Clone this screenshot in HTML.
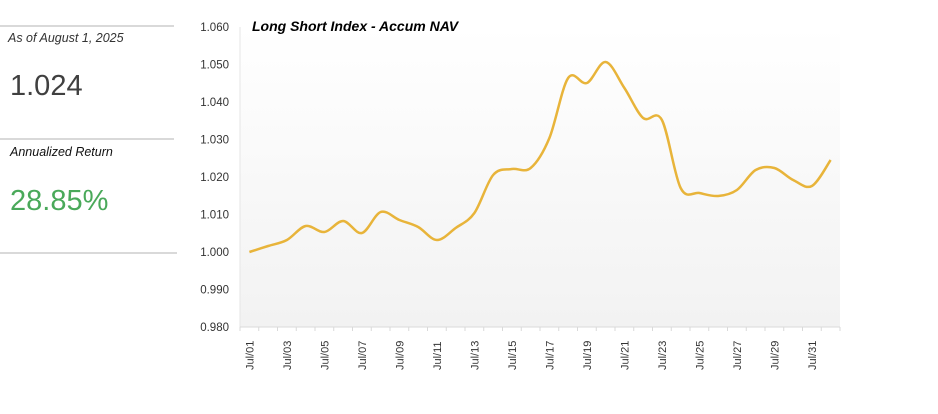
<!DOCTYPE html>
<html><head><meta charset="utf-8"><style>
body{margin:0;width:938px;height:414px;background:#fff;overflow:hidden;font-family:"Liberation Sans",sans-serif;position:relative}
.hr{position:absolute;left:0;height:2px;background:#d9d9d9}
.t{position:absolute;white-space:nowrap}
</style></head><body>
<div class="hr" style="top:25px;width:174px"></div>
<div class="t" style="left:8px;top:31px;font-size:12.5px;font-style:italic;color:#333">As of August 1, 2025</div>
<div class="t" style="left:10px;top:70px;font-size:29px;color:#404040">1.024</div>
<div class="hr" style="top:138px;width:174px"></div>
<div class="t" style="left:10px;top:145px;font-size:12.5px;font-style:italic;color:#111">Annualized Return</div>
<div class="t" style="left:10px;top:185px;font-size:29px;color:#4aa95a">28.85%</div>
<div class="hr" style="top:252px;width:177px"></div>
<svg width="938" height="414" style="position:absolute;left:0;top:0">
<defs><linearGradient id="g" x1="0" y1="0" x2="0" y2="1"><stop offset="0" stop-color="#fff"/><stop offset="1" stop-color="#f2f2f2"/></linearGradient></defs>
<rect x="240" y="27" width="600" height="300" fill="url(#g)"/>
<line x1="240" y1="27" x2="240" y2="327" stroke="#e6e6e6"/>
<line x1="240" y1="327" x2="840" y2="327" stroke="#d9d9d9"/>
<text x="252" y="31" font-size="14" font-weight="bold" font-style="italic" fill="#000">Long Short Index - Accum NAV</text>
<g id="yl" font-size="11.5" fill="#333" text-anchor="end"></g>
<g id="xl" font-size="11" fill="#333"></g>
<path id="p" fill="none" stroke="#e8b43a" stroke-width="2.5"/>
</svg>
<script>
var yl=document.getElementById('yl'),xl=document.getElementById('xl'),ns='http://www.w3.org/2000/svg';
for(var i=0;i<=8;i++){var t=document.createElementNS(ns,'text');t.setAttribute('x',229);t.setAttribute('y',27+i*37.5+4);t.textContent=(1.06-i*0.01).toFixed(3);yl.appendChild(t);}
for(var i=0;i<=32;i++){var l=document.createElementNS(ns,'line');var x=240+i*18.75;l.setAttribute('x1',x);l.setAttribute('x2',x);l.setAttribute('y1',327);l.setAttribute('y2',331);l.setAttribute('stroke','#d9d9d9');xl.appendChild(l);}
for(var d=1;d<=31;d+=2){var x=249.4+(d-1)*18.75+4;var t=document.createElementNS(ns,'text');t.setAttribute('transform','translate('+x+',370) rotate(-90)');t.textContent='Jul/'+(d<10?'0'+d:d);xl.appendChild(t);}
var ys=[252,246,240,226,232,221,233,212,220,227,240,228,213,175,169,168,138,78,83,62,88,118,120,188,193,196,190,170,168,180,186,160];
var pts=ys.map(function(y,i){return [249.4+i*18.75,y]});
var d='M'+pts[0][0]+','+pts[0][1];
for(var i=0;i<pts.length-1;i++){var p0=pts[Math.max(0,i-1)],p1=pts[i],p2=pts[i+1],p3=pts[Math.min(pts.length-1,i+2)];
d+=' C'+(p1[0]+(p2[0]-p0[0])/6)+','+(p1[1]+(p2[1]-p0[1])/6)+' '+(p2[0]-(p3[0]-p1[0])/6)+','+(p2[1]-(p3[1]-p1[1])/6)+' '+p2[0]+','+p2[1];}
document.getElementById('p').setAttribute('d',d);
</script>
</body></html>
